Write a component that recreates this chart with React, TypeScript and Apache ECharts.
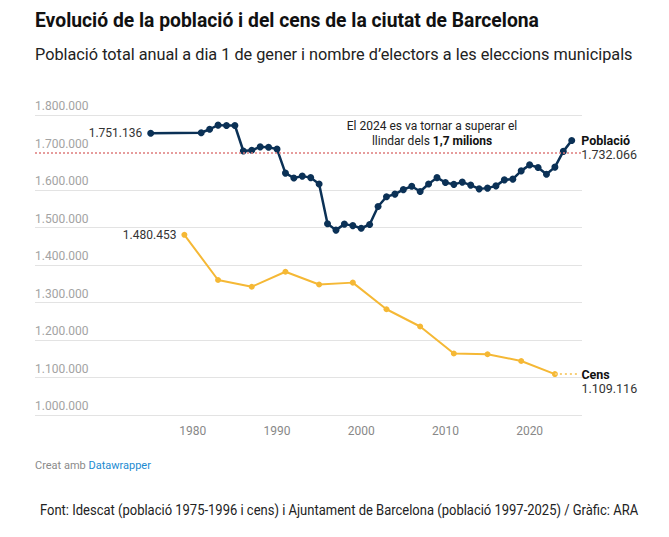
import React, { useEffect, useRef } from "react";
import * as echarts from "echarts";

const TITLE = "Evolució de la població i del cens de la ciutat de Barcelona";
const SUBTITLE = "Població total anual a dia 1 de gener i nombre d’electors a les eleccions municipals";
const FOOTER = "Font: Idescat (població 1975-1996 i cens) i Ajuntament de Barcelona (població 1997-2025) / Gràfic: ARA";

const popYears = [
  1975, 1981, 1982, 1983, 1984, 1985, 1986, 1987, 1988, 1989, 1990, 1991, 1992, 1993, 1994, 1995,
  1996, 1997, 1998, 1999, 2000, 2001, 2002, 2003, 2004, 2005, 2006, 2007, 2008, 2009, 2010, 2011,
  2012, 2013, 2014, 2015, 2016, 2017, 2018, 2019, 2020, 2021, 2022, 2023, 2024, 2025,
];
const poblacio = [
  1751136, 1752627, 1762000, 1773000, 1772000, 1772000, 1704000, 1706000, 1715000, 1714000, 1709000,
  1645000, 1632000, 1637000, 1633000, 1616000, 1510000, 1493000, 1509000, 1505000, 1498000, 1508000,
  1556000, 1582000, 1589000, 1601000, 1610000, 1596000, 1616000, 1633000, 1620000, 1615000, 1621000,
  1613000, 1603000, 1605000, 1611000, 1627000, 1629000, 1651000, 1667000, 1660000, 1642000, 1661000,
  1703000, 1732066,
];
const censYears = [1979, 1983, 1987, 1991, 1995, 1999, 2003, 2007, 2011, 2015, 2019, 2023];
const cens = [
  1480453, 1360000, 1342000, 1382000, 1348000, 1353000, 1282000, 1236000, 1164000, 1162000, 1144000,
  1109116,
];
const xTicks = [1980, 1990, 2000, 2010, 2020];
const THRESHOLD = 1700000;
const Y_MIN = 1000000;
const Y_MAX = 1800000;
const Y_STEP = 100000;

const NAVY = "#0b3156";
const YELLOW = "#f5b835";
const FONT = "Roboto, 'Noto Sans', sans-serif";

const fmt = (v: number) => String(Math.round(v)).replace(/\B(?=(\d{3})+(?!\d))/g, ".");

export default function App() {
  const ref = useRef<HTMLDivElement>(null);
  useEffect(() => {
    if (!ref.current) return;
    const chart = echarts.init(ref.current, undefined, { renderer: "svg" });

    const popData = poblacio.map((v, i) => {
      const item: any = { value: [popYears[i], v] };
      if (i === 0) {
        item.label = {
          show: true,
          position: "left",
          distance: 5,
          formatter: fmt(v),
          color: "#333",
          fontSize: 12,
          fontFamily: FONT,
        };
      }
      if (i === poblacio.length - 1) {
        item.label = {
          show: true,
          position: "right",
          distance: 6,
          offset: [0, 7],
          align: "left",
          formatter: `{b|Població}\n{v|${fmt(v)}}`,
          rich: {
            b: { fontWeight: "bold", fontSize: 12.5, color: "#111", lineHeight: 14, fontFamily: FONT },
            v: { fontSize: 12.5, color: "#333", lineHeight: 14, fontFamily: FONT },
          },
        };
      }
      return item;
    });

    const censData = cens.map((v, i) => {
      const item: any = { value: [censYears[i], v] };
      if (i === 0) {
        item.label = {
          show: true,
          position: "left",
          distance: 5,
          formatter: fmt(v),
          color: "#333",
          fontSize: 12,
          fontFamily: FONT,
        };
      }
      if (i === cens.length - 1) {
        item.label = {
          show: true,
          position: "right",
          distance: 23.5,
          offset: [0, 7],
          align: "left",
          formatter: `{b|Cens}\n{v|${fmt(v)}}`,
          rich: {
            b: { fontWeight: "bold", fontSize: 12.5, color: "#111", lineHeight: 14, fontFamily: FONT },
            v: { fontSize: 12.5, color: "#333", lineHeight: 14, fontFamily: FONT },
          },
        };
      }
      return item;
    });

    const lastCensYear = censYears[censYears.length - 1];
    const lastCens = cens[cens.length - 1];

    const splitColors = [];
    for (let v = Y_MIN; v <= Y_MAX; v += Y_STEP) {
      splitColors.push(v === THRESHOLD ? "rgba(0,0,0,0)" : "#e3e3e3");
    }

    chart.setOption({
      animation: false,
      backgroundColor: "#ffffff",
      textStyle: { fontFamily: FONT },
      grid: { left: 35, right: 87, top: 115, bottom: 122, containLabel: false },
      xAxis: {
        type: "value",
        min: 1961.26,
        max: 2026.22,
        splitLine: { show: false },
        axisLine: { show: false },
        axisTick: { show: false },
        axisLabel: {
          customValues: xTicks,
          formatter: (v: number) => String(v),
          color: "#888",
          fontSize: 12,
          margin: 10,
          fontFamily: FONT,
        },
      },
      yAxis: {
        type: "value",
        min: Y_MIN,
        max: Y_MAX,
        interval: Y_STEP,
        axisLine: { show: false },
        axisTick: { show: false },
        splitLine: { show: true, lineStyle: { color: splitColors, width: 1 } },
        axisLabel: {
          inside: true,
          margin: 0,
          align: "left",
          verticalAlign: "bottom",
          padding: [0, 0, 3, 0],
          color: "#a3a3a3",
          fontSize: 12,
          fontFamily: FONT,
          formatter: (v: number) => fmt(v),
        },
      },
      series: [
        {
          name: "Cens",
          type: "line",
          data: censData,
          symbol: "circle",
          symbolSize: 6,
          itemStyle: { color: YELLOW },
          lineStyle: { color: YELLOW, width: 2 },
          z: 3,
          markLine: {
            silent: true,
            symbol: ["none", "none"],
            label: { show: false },
            lineStyle: { color: "#f7cf78", type: [2, 3], width: 2 },
            data: [[{ coord: [lastCensYear, lastCens] }, { coord: [lastCensYear + 2.75, lastCens] }]],
          },
        },
        {
          name: "Població",
          type: "line",
          data: popData,
          symbol: "circle",
          symbolSize: 7,
          itemStyle: { color: NAVY },
          lineStyle: { color: NAVY, width: 2.5 },
          z: 4,
          markLine: {
            silent: true,
            symbol: ["none", "none"],
            label: { show: false },
            lineStyle: { color: "#de7c7c", type: [2, 2], width: 1.5 },
            data: [{ yAxis: THRESHOLD }],
          },
        },
      ],
      graphic: [
        {
          type: "text",
          x: 35,
          y: 20,
          scaleX: 0.92,
          style: {
            text: TITLE,
            font: `bold 21px ${FONT}`,
            fill: "#111",
            textVerticalAlign: "middle",
          },
        },
        {
          type: "text",
          x: 35,
          y: 55,
          scaleX: 1.017,
          style: {
            text: SUBTITLE,
            font: `16px ${FONT}`,
            fill: "#222",
            textVerticalAlign: "middle",
          },
        },
        {
          type: "text",
          x: 432,
          y: 118.5,
          style: {
            text: "El 2024 es va tornar a superar el\nllindar dels {b|1,7 milions}",
            font: `12px ${FONT}`,
            fill: "#222",
            textAlign: "center",
            textVerticalAlign: "top",
            lineHeight: 15,
            rich: {
              b: { fontWeight: "bold", fontSize: 12, fill: "#111", lineHeight: 15, fontFamily: FONT },
            },
          },
        },
        {
          type: "text",
          x: 35,
          y: 465,
          style: {
            text: "Creat amb {a|Datawrapper}",
            font: `11px ${FONT}`,
            fill: "#8a8a8a",
            textVerticalAlign: "middle",
            rich: { a: { fill: "#1d8bd1", fontSize: 11, fontFamily: FONT } },
          },
        },
        {
          type: "text",
          x: 40,
          y: 510,
          scaleX: 0.928,
          style: {
            text: FOOTER,
            font: `14px ${FONT}`,
            fill: "#222",
            textVerticalAlign: "middle",
          },
        },
      ],
    });
    return () => chart.dispose();
  }, []);
  return (
    <div
      ref={ref}
      style={{ position: "absolute", left: 0, top: 0, width: 669, height: 537, background: "#fff" }}
    />
  );
}
